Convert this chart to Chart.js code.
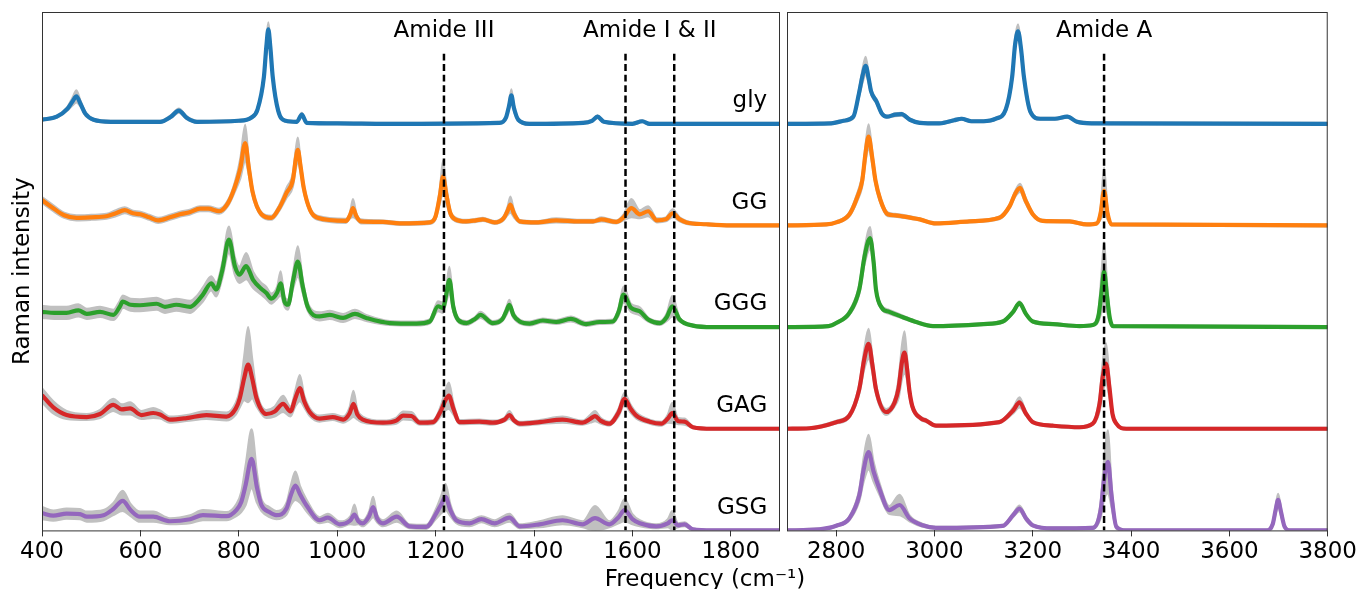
<!DOCTYPE html>
<html>
<head>
<meta charset="utf-8">
<script src="https://cdn.jsdelivr.net/npm/chart.js@4.4.1/dist/chart.umd.min.js"></script>
<style>
  html, body { margin: 0; padding: 0; background: #fff; }
  #wrap { position: relative; width: 1359px; height: 589px; overflow: hidden; }
  #wrap canvas { position: absolute; left: 0; top: 0; }
</style>
</head>
<body>
<div id="wrap">
  <canvas id="fingerprint" width="1359" height="589"></canvas>
  <canvas id="stretch" width="1359" height="589"></canvas>
</div>
<script>
// Raman spectra of glycine and small peptides, stacked with a vertical offset.
// Each point is [frequency, mean intensity, spread of the grey band].
const names = ['gly', 'GG', 'GGG', 'GAG', 'GSG'];
const offsets = [4, 3, 2, 1, 0];
const colors = ['#1f77b4', '#ff7f0e', '#2ca02c', '#d62728', '#9467bd'];

const lowTicks = [400, 600, 800, 1000, 1200, 1400, 1600, 1800];
const highTicks = [2800, 3000, 3200, 3400, 3600, 3800];

const amideLow = [1217, 1586, 1685];
const amideHigh = [3345];
const amideLowLabels = [['Amide III', 1217], ['Amide I & II', 1635.5]];
const amideHighLabels = [['Amide A', 3345]];

// 400 - 1900 cm-1
const glyLow = [
  [400, 0.04, 0.01], [430, 0.07, 0.01], [452, 0.15, 0.02], [462, 0.22, 0.04], [470, 0.27, 0.06],
  [478, 0.2, 0.03], [488, 0.1, 0.02], [505, 0.04, 0.01], [540, 0.02, 0.01], [640, 0.02, 0.01],
  [662, 0.07, 0.015], [678, 0.13, 0.02], [694, 0.06, 0.015], [715, 0.02, 0.01], [800, 0.03, 0.01],
  [825, 0.06, 0.01], [838, 0.14, 0.02], [851, 0.46, 0.04], [856, 0.76, 0.06], [860, 0.93, 0.07],
  [864, 0.76, 0.06], [869, 0.46, 0.04], [880, 0.13, 0.02], [895, 0.03, 0.01], [918, 0.02, 0.01],
  [928, 0.09, 0.02], [938, 0.01, 0.01], [1000, 0.005, 0.01], [1100, 0.0, 0.01], [1330, 0.01, 0.01],
  [1343, 0.06, 0.01], [1349, 0.17, 0.03], [1354, 0.28, 0.06], [1359, 0.16, 0.03], [1368, 0.04, 0.01],
  [1390, 0.0, 0.01], [1500, 0.01, 0.01], [1518, 0.03, 0.01], [1529, 0.07, 0.015], [1542, 0.02, 0.01],
  [1600, 0.0, 0.01], [1620, 0.025, 0.01], [1635, 0.0, 0.01], [1900, 0.0, 0.01]
];
const ggLow = [
  [400, 0.25, 0.03], [420, 0.18, 0.03], [445, 0.1, 0.025], [470, 0.075, 0.025], [500, 0.08, 0.025],
  [531, 0.09, 0.025], [550, 0.12, 0.03], [568, 0.15, 0.03], [585, 0.12, 0.025], [600, 0.11, 0.025],
  [618, 0.08, 0.025], [636, 0.05, 0.025], [660, 0.08, 0.025], [680, 0.11, 0.025], [700, 0.13, 0.025],
  [721, 0.165, 0.025], [738, 0.165, 0.025], [760, 0.14, 0.025], [778, 0.22, 0.03], [792, 0.38, 0.05],
  [803, 0.56, 0.1], [813, 0.81, 0.18], [820, 0.58, 0.08], [828, 0.33, 0.04], [846, 0.11, 0.02],
  [866, 0.075, 0.02], [882, 0.17, 0.03], [897, 0.32, 0.05], [910, 0.45, 0.07], [916, 0.66, 0.1],
  [920, 0.745, 0.12], [925, 0.6, 0.07], [932, 0.37, 0.04], [945, 0.15, 0.02], [960, 0.075, 0.02],
  [1018, 0.045, 0.02], [1026, 0.1, 0.03], [1032, 0.17, 0.09], [1039, 0.09, 0.03], [1048, 0.04, 0.02],
  [1093, 0.035, 0.015], [1127, 0.02, 0.015], [1188, 0.03, 0.015], [1200, 0.09, 0.03], [1209, 0.3, 0.08],
  [1215, 0.48, 0.16], [1222, 0.3, 0.08], [1230, 0.12, 0.03], [1240, 0.06, 0.02], [1262, 0.04, 0.015],
  [1282, 0.05, 0.015], [1296, 0.06, 0.015], [1320, 0.03, 0.015], [1338, 0.07, 0.02], [1346, 0.14, 0.04],
  [1352, 0.205, 0.08], [1359, 0.12, 0.04], [1371, 0.04, 0.015], [1405, 0.03, 0.015], [1445, 0.05, 0.02],
  [1492, 0.04, 0.015], [1520, 0.04, 0.015], [1537, 0.06, 0.02], [1567, 0.035, 0.015], [1582, 0.08, 0.03],
  [1598, 0.17, 0.09], [1615, 0.11, 0.04], [1632, 0.14, 0.05], [1650, 0.05, 0.02], [1668, 0.06, 0.02],
  [1682, 0.12, 0.04], [1696, 0.06, 0.02], [1710, 0.03, 0.015], [1750, 0.012, 0.01], [1800, 0.0, 0.01],
  [1900, 0.0, 0.01]
];
const gggLow = [
  [400, 0.15, 0.06], [425, 0.14, 0.06], [450, 0.14, 0.06], [474, 0.165, 0.06], [491, 0.13, 0.05],
  [518, 0.15, 0.05], [545, 0.12, 0.05], [558, 0.2, 0.06], [564, 0.25, 0.06], [580, 0.22, 0.06],
  [599, 0.215, 0.06], [633, 0.23, 0.06], [650, 0.2, 0.06], [673, 0.22, 0.06], [701, 0.2, 0.06],
  [715, 0.25, 0.06], [727, 0.32, 0.07], [744, 0.43, 0.07], [754, 0.37, 0.07], [766, 0.55, 0.08],
  [780, 0.86, 0.13], [792, 0.6, 0.09], [801, 0.515, 0.08], [815, 0.6, 0.13], [829, 0.465, 0.08],
  [845, 0.38, 0.06], [856, 0.335, 0.06], [866, 0.28, 0.05], [878, 0.34, 0.06], [885, 0.43, 0.12],
  [893, 0.25, 0.05], [900, 0.22, 0.05], [910, 0.45, 0.08], [920, 0.645, 0.15], [930, 0.4, 0.07],
  [940, 0.2, 0.04], [964, 0.105, 0.04], [985, 0.12, 0.04], [1012, 0.09, 0.04], [1036, 0.13, 0.04],
  [1059, 0.09, 0.03], [1107, 0.04, 0.02], [1161, 0.035, 0.02], [1188, 0.055, 0.02], [1205, 0.205, 0.05],
  [1215, 0.19, 0.05], [1222, 0.33, 0.08], [1228, 0.465, 0.13], [1236, 0.2, 0.05], [1246, 0.07, 0.02],
  [1263, 0.04, 0.02], [1280, 0.08, 0.02], [1291, 0.12, 0.03], [1316, 0.04, 0.02], [1336, 0.08, 0.02],
  [1344, 0.16, 0.04], [1350, 0.22, 0.05], [1358, 0.12, 0.03], [1371, 0.055, 0.02], [1391, 0.035, 0.02],
  [1418, 0.065, 0.02], [1445, 0.05, 0.02], [1475, 0.08, 0.025], [1506, 0.03, 0.02], [1533, 0.05, 0.02],
  [1560, 0.055, 0.02], [1572, 0.15, 0.04], [1582, 0.32, 0.08], [1597, 0.19, 0.04], [1615, 0.155, 0.04],
  [1632, 0.075, 0.02], [1656, 0.04, 0.02], [1670, 0.1, 0.04], [1681, 0.205, 0.1], [1696, 0.075, 0.02],
  [1723, 0.015, 0.01], [1763, 0.0, 0.01], [1900, 0.0, 0.01]
];
const gagLow = [
  [400, 0.33, 0.07], [423, 0.21, 0.06], [450, 0.135, 0.04], [491, 0.115, 0.03], [518, 0.145, 0.04],
  [545, 0.235, 0.06], [562, 0.19, 0.05], [579, 0.2, 0.06], [602, 0.135, 0.04], [626, 0.155, 0.05],
  [640, 0.14, 0.04], [660, 0.09, 0.03], [694, 0.105, 0.03], [734, 0.135, 0.04], [775, 0.12, 0.04],
  [794, 0.2, 0.06], [802, 0.3, 0.09], [811, 0.5, 0.22], [819, 0.63, 0.37], [827, 0.5, 0.2],
  [836, 0.3, 0.08], [856, 0.145, 0.04], [873, 0.17, 0.05], [890, 0.245, 0.08], [905, 0.17, 0.05],
  [915, 0.3, 0.08], [924, 0.4, 0.13], [933, 0.27, 0.06], [944, 0.165, 0.04], [964, 0.1, 0.03],
  [991, 0.115, 0.03], [1012, 0.09, 0.03], [1025, 0.15, 0.06], [1033, 0.245, 0.13], [1041, 0.14, 0.05],
  [1052, 0.09, 0.03], [1093, 0.06, 0.02], [1120, 0.08, 0.03], [1134, 0.13, 0.04], [1151, 0.125, 0.04],
  [1168, 0.06, 0.02], [1195, 0.065, 0.02], [1210, 0.17, 0.05], [1220, 0.28, 0.1], [1227, 0.325, 0.13],
  [1236, 0.2, 0.06], [1249, 0.065, 0.02], [1289, 0.07, 0.02], [1316, 0.06, 0.02], [1340, 0.09, 0.02],
  [1350, 0.135, 0.04], [1360, 0.08, 0.02], [1371, 0.05, 0.02], [1411, 0.065, 0.02], [1458, 0.09, 0.03],
  [1499, 0.06, 0.02], [1515, 0.1, 0.04], [1524, 0.125, 0.05], [1535, 0.08, 0.03], [1553, 0.05, 0.02],
  [1572, 0.16, 0.04], [1584, 0.295, 0.06], [1596, 0.2, 0.04], [1608, 0.13, 0.03], [1635, 0.07, 0.02],
  [1659, 0.05, 0.02], [1672, 0.1, 0.04], [1681, 0.155, 0.1], [1693, 0.075, 0.03], [1706, 0.07, 0.03],
  [1723, 0.015, 0.01], [1763, 0.0, 0.01], [1900, 0.0, 0.01]
];
const gsgLow = [
  [400, 0.17, 0.06], [423, 0.145, 0.05], [450, 0.165, 0.05], [477, 0.16, 0.05], [491, 0.135, 0.05],
  [525, 0.15, 0.05], [545, 0.21, 0.06], [564, 0.29, 0.1], [580, 0.2, 0.06], [599, 0.135, 0.05],
  [626, 0.135, 0.05], [660, 0.09, 0.03], [701, 0.11, 0.04], [727, 0.15, 0.05], [775, 0.14, 0.04],
  [795, 0.2, 0.06], [805, 0.28, 0.1], [814, 0.45, 0.2], [826, 0.705, 0.29], [837, 0.42, 0.15],
  [846, 0.25, 0.06], [862, 0.18, 0.05], [876, 0.15, 0.04], [897, 0.215, 0.06], [906, 0.35, 0.1],
  [915, 0.44, 0.14], [925, 0.35, 0.08], [937, 0.25, 0.06], [964, 0.1, 0.03], [981, 0.125, 0.04],
  [1005, 0.06, 0.03], [1027, 0.1, 0.04], [1035, 0.155, 0.1], [1043, 0.09, 0.03], [1052, 0.07, 0.03],
  [1065, 0.14, 0.05], [1073, 0.23, 0.1], [1081, 0.12, 0.04], [1093, 0.07, 0.03], [1121, 0.135, 0.05],
  [1147, 0.04, 0.02], [1181, 0.035, 0.02], [1201, 0.165, 0.05], [1212, 0.26, 0.09], [1220, 0.33, 0.13],
  [1230, 0.2, 0.06], [1242, 0.1, 0.03], [1269, 0.07, 0.03], [1293, 0.11, 0.03], [1320, 0.07, 0.03],
  [1350, 0.125, 0.04], [1371, 0.04, 0.02], [1411, 0.06, 0.03], [1458, 0.1, 0.04], [1499, 0.06, 0.03],
  [1524, 0.12, 0.12], [1553, 0.06, 0.03], [1572, 0.13, 0.06], [1584, 0.2, 0.11], [1600, 0.11, 0.05],
  [1615, 0.07, 0.03], [1648, 0.04, 0.02], [1672, 0.07, 0.04], [1681, 0.1, 0.09], [1693, 0.05, 0.02],
  [1706, 0.06, 0.02], [1723, 0.01, 0.01], [1763, 0.0, 0.01], [1900, 0.0, 0.01]
];

// 2700 - 3800 cm-1
const glyHigh = [
  [2700, 0.0, 0.01], [2790, 0.005, 0.01], [2815, 0.03, 0.01], [2835, 0.07, 0.015], [2846, 0.29, 0.04],
  [2854, 0.48, 0.07], [2860, 0.57, 0.09], [2866, 0.45, 0.05], [2871, 0.32, 0.03], [2882, 0.22, 0.02],
  [2893, 0.1, 0.015], [2903, 0.07, 0.01], [2920, 0.09, 0.015], [2933, 0.095, 0.015], [2950, 0.04, 0.01],
  [2970, 0.01, 0.01], [3010, 0.005, 0.01], [3040, 0.035, 0.01], [3055, 0.05, 0.01], [3075, 0.025, 0.01],
  [3100, 0.025, 0.01], [3125, 0.05, 0.01], [3145, 0.14, 0.02], [3158, 0.46, 0.04], [3164, 0.78, 0.06],
  [3170, 0.91, 0.07], [3176, 0.74, 0.05], [3182, 0.46, 0.04], [3195, 0.12, 0.02], [3215, 0.05, 0.01],
  [3245, 0.05, 0.01], [3270, 0.07, 0.01], [3290, 0.02, 0.01], [3320, 0.005, 0.01], [3800, 0.0, 0.01]
];
const ggHigh = [
  [2700, 0.0, 0.01], [2780, 0.01, 0.01], [2800, 0.03, 0.01], [2827, 0.11, 0.02], [2843, 0.28, 0.04],
  [2853, 0.44, 0.06], [2860, 0.72, 0.09], [2866, 0.875, 0.12], [2873, 0.68, 0.07], [2880, 0.44, 0.04],
  [2890, 0.25, 0.03], [2905, 0.11, 0.02], [2920, 0.1, 0.015], [2935, 0.09, 0.015], [2970, 0.06, 0.01],
  [3003, 0.02, 0.01], [3071, 0.04, 0.01], [3132, 0.075, 0.015], [3153, 0.19, 0.02], [3164, 0.31, 0.03],
  [3174, 0.37, 0.04], [3185, 0.25, 0.03], [3200, 0.11, 0.015], [3220, 0.045, 0.01], [3275, 0.04, 0.01],
  [3310, 0.01, 0.01], [3330, 0.02, 0.01], [3338, 0.12, 0.06], [3345, 0.34, 0.23], [3352, 0.12, 0.06],
  [3360, 0.01, 0.01], [3800, 0.0, 0.01]
];
const gggHigh = [
  [2700, 0.0, 0.01], [2785, 0.01, 0.01], [2800, 0.04, 0.01], [2827, 0.14, 0.02], [2847, 0.37, 0.05],
  [2858, 0.7, 0.08], [2869, 0.875, 0.11], [2876, 0.65, 0.07], [2881, 0.37, 0.04], [2893, 0.19, 0.02],
  [2908, 0.15, 0.02], [2935, 0.1, 0.015], [2963, 0.05, 0.01], [2997, 0.01, 0.01], [3100, 0.03, 0.01],
  [3139, 0.055, 0.01], [3160, 0.15, 0.015], [3173, 0.235, 0.02], [3186, 0.13, 0.015], [3200, 0.055, 0.01],
  [3241, 0.03, 0.01], [3295, 0.01, 0.01], [3322, 0.02, 0.01], [3334, 0.12, 0.06], [3340, 0.35, 0.2],
  [3345, 0.545, 0.29], [3351, 0.3, 0.15], [3357, 0.08, 0.04], [3363, 0.01, 0.01], [3800, 0.0, 0.01]
];
const gagHigh = [
  [2700, 0.0, 0.01], [2746, 0.005, 0.01], [2800, 0.065, 0.015], [2827, 0.13, 0.02], [2847, 0.39, 0.05],
  [2857, 0.68, 0.1], [2866, 0.835, 0.15], [2874, 0.62, 0.08], [2881, 0.39, 0.05], [2902, 0.165, 0.03],
  [2919, 0.26, 0.04], [2927, 0.4, 0.1], [2934, 0.66, 0.17], [2939, 0.75, 0.21], [2944, 0.6, 0.12],
  [2949, 0.375, 0.06], [2955, 0.22, 0.03], [2973, 0.1, 0.015], [2983, 0.08, 0.015], [3003, 0.03, 0.01],
  [3132, 0.065, 0.01], [3160, 0.18, 0.03], [3173, 0.26, 0.05], [3186, 0.15, 0.02], [3200, 0.065, 0.01],
  [3241, 0.03, 0.01], [3295, 0.015, 0.01], [3322, 0.05, 0.01], [3336, 0.25, 0.08], [3342, 0.5, 0.15],
  [3349, 0.64, 0.2], [3356, 0.4, 0.1], [3362, 0.15, 0.03], [3370, 0.05, 0.01], [3390, 0.0, 0.01],
  [3800, 0.0, 0.01]
];
const gsgHigh = [
  [2700, 0.0, 0.01], [2766, 0.01, 0.01], [2800, 0.045, 0.01], [2827, 0.12, 0.02], [2847, 0.345, 0.06],
  [2856, 0.6, 0.12], [2866, 0.77, 0.17], [2876, 0.58, 0.1], [2888, 0.41, 0.06], [2908, 0.2, 0.04],
  [2929, 0.25, 0.1], [2949, 0.12, 0.03], [2976, 0.05, 0.015], [3003, 0.025, 0.01], [3139, 0.045, 0.01],
  [3160, 0.15, 0.02], [3173, 0.215, 0.03], [3186, 0.12, 0.02], [3200, 0.05, 0.01], [3241, 0.02, 0.01],
  [3322, 0.025, 0.01], [3338, 0.2, 0.08], [3345, 0.5, 0.2], [3353, 0.675, 0.31], [3360, 0.35, 0.12],
  [3370, 0.035, 0.02], [3390, 0.0, 0.01], [3675, 0.0, 0.01], [3688, 0.06, 0.02], [3694, 0.2, 0.04],
  [3699, 0.3, 0.06], [3705, 0.18, 0.04], [3712, 0.04, 0.01], [3723, 0.0, 0.01], [3800, 0.0, 0.01]
];

const lowSpectra = [glyLow, ggLow, gggLow, gagLow, gsgLow];
const highSpectra = [glyHigh, ggHigh, gggHigh, gagHigh, gsgHigh];

const Y_MAX = 5.1;
const DASH_TOP = 4.69;
const BAND = '#c0c0c0';
const FONT = '"DejaVu Sans", sans-serif';
const TEXT_SIZE = 23;

Chart.defaults.font.family = FONT;

function buildDatasets(spectra, markers) {
    const sets = [];
    markers.forEach(m => {
        sets.push({
            data: [{ x: m, y: DASH_TOP }, { x: m, y: 0 }],
            borderColor: '#000',
            borderWidth: 2.5,
            borderDash: [7, 3.5],
            order: 0
        });
    });
    spectra.forEach((pts, i) => {
        const off = offsets[i];
        // grey spread band: upper edge, then lower edge filled back to it
        sets.push({
            data: pts.map(p => ({ x: p[0], y: off + p[1] + p[2] })),
            borderColor: BAND, borderWidth: 2, fill: false, order: 2
        });
        sets.push({
            data: pts.map(p => ({ x: p[0], y: off + p[1] - p[2] })),
            borderColor: BAND, borderWidth: 2, backgroundColor: BAND, fill: '-1', order: 2
        });
        sets.push({
            data: pts.map(p => ({ x: p[0], y: off + p[1] })),
            borderColor: colors[i], borderWidth: 4.2, fill: false, order: 1
        });
    });
    return sets;
}

function drawText(ctx, text, x, y, align, baseline) {
    ctx.textAlign = align;
    ctx.textBaseline = baseline;
    ctx.fillText(text, x, y);
}

// frame, labels and axis titles
function annotations(isLow) {
    return {
        id: 'annotations',
        afterDraw(chart) {
            const { ctx, chartArea: a, scales } = chart;
            const sx = scales.x, sy = scales.y;
            ctx.save();
            ctx.strokeStyle = '#333';
            ctx.lineWidth = 1;
            ctx.strokeRect(a.left + 0.5, a.top + 0.5, a.right - a.left - 1, a.bottom - a.top);
            ctx.fillStyle = '#000';
            ctx.font = TEXT_SIZE + 'px ' + FONT;
            const labels = isLow ? amideLowLabels : amideHighLabels;
            labels.forEach(l => drawText(ctx, l[0], sx.getPixelForValue(l[1]), sy.getPixelForValue(4.85), 'center', 'alphabetic'));
            if (isLow) {
                names.forEach((n, i) => {
                    drawText(ctx, n, sx.getPixelForValue(1874), sy.getPixelForValue(offsets[i] + 0.165), 'right', 'alphabetic');
                });
                ctx.save();
                ctx.translate(23, (a.top + a.bottom) / 2);
                ctx.rotate(-Math.PI / 2);
                drawText(ctx, 'Raman intensity', 0, 0, 'center', 'middle');
                ctx.restore();
                drawText(ctx, 'Frequency (cm\u207B\u00B9)', 705, 569, 'center', 'top');
            }
            ctx.restore();
        }
    };
}

function makeChart(id, spectra, markers, xMin, xMax, ticks, padLeft, padRight, isLow) {
    return new Chart(document.getElementById(id).getContext('2d'), {
        type: 'line',
        data: { datasets: buildDatasets(spectra, markers) },
        options: {
            responsive: false,
            animation: false,
            events: [],
            layout: { padding: { left: padLeft, right: padRight, top: 12, bottom: 21 } },
            elements: {
                point: { radius: 0 },
                line: { cubicInterpolationMode: 'monotone', borderCapStyle: 'butt', borderJoinStyle: 'round' }
            },
            plugins: { legend: { display: false }, tooltip: { enabled: false } },
            scales: {
                x: {
                    type: 'linear',
                    min: xMin,
                    max: xMax,
                    afterBuildTicks: s => { s.ticks = ticks.map(v => ({ value: v })); },
                    ticks: {
                        color: '#000', font: { size: TEXT_SIZE }, padding: 2, maxRotation: 0, autoSkip: false,
                        callback: v => String(v)
                    },
                    grid: { drawOnChartArea: false, tickLength: 6, color: '#333' },
                    border: { display: false }
                },
                y: { type: 'linear', min: 0, max: Y_MAX, display: false }
            }
        },
        plugins: [annotations(isLow)]
    });
}

makeChart('fingerprint', lowSpectra, amideLow, 400, 1900, lowTicks, 42, 579, true);
makeChart('stretch', highSpectra, amideHigh, 2700, 3800, highTicks, 787, 31, false);
</script>
</body>
</html>
